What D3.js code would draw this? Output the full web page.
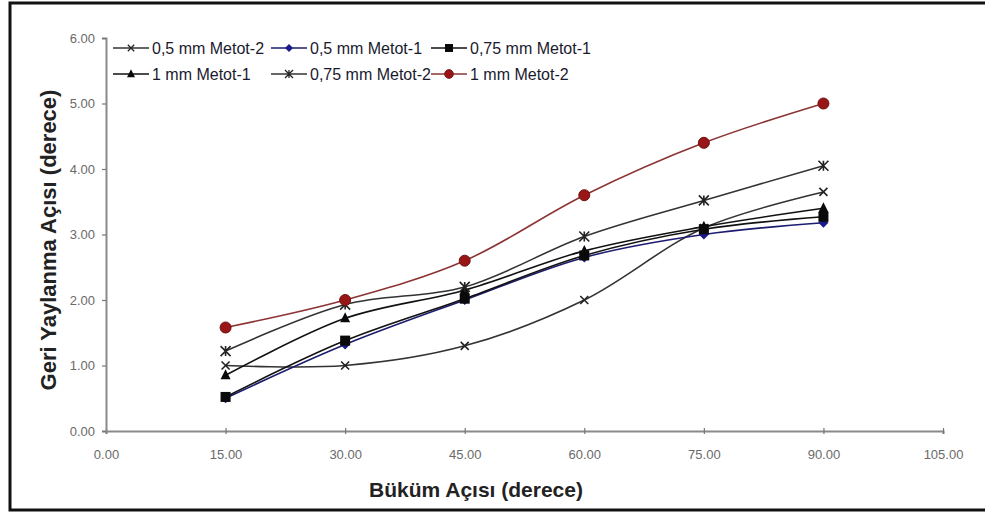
<!DOCTYPE html>
<html>
<head>
<meta charset="utf-8">
<script src="https://cdn.jsdelivr.net/npm/d3@7"></script>
<style>
  body { margin: 0; background: #fff; }
  svg { display: block; font-family: "Liberation Sans", Arial, sans-serif; }
</style>
</head>
<body>
<svg id="chart" width="985" height="513"></svg>
<script>
// bending angle (x) and spring-back angle (y)
const angles = [15, 30, 45, 60, 75, 90];
const xTicks = [0, 15, 30, 45, 60, 75, 90, 105];
const yTicks = [0, 1, 2, 3, 4, 5, 6];

const seriesNames = ["0,5 mm Metot-2", "0,5 mm Metot-1", "0,75 mm Metot-1",
    "1 mm Metot-1", "0,75 mm Metot-2", "1 mm Metot-2"];

const s05m2 = [1.00, 1.00, 1.30, 2.00, 3.10, 3.65];
const s05m1 = [0.50, 1.32, 2.00, 2.65, 3.00, 3.18];
const s075m1 = [0.52, 1.38, 2.02, 2.68, 3.08, 3.27];
const s1m1 = [0.85, 1.72, 2.15, 2.75, 3.12, 3.40];
const s075m2 = [1.22, 1.93, 2.20, 2.97, 3.52, 4.05];
const s1m2 = [1.58, 2.00, 2.60, 3.60, 4.40, 5.00];

const seriesValues = [s05m2, s05m1, s075m1, s1m1, s075m2, s1m2];

const lineColors = ["#333", "#1c1c70", "#111", "#111", "#333", "#8c3434"];
const markerKinds = ["x", "diamond", "square", "triangle", "asterisk", "circle"];

const margin = { top: 38, right: 42, bottom: 82, left: 106 };
const W = 985, H = 513;
const width = W - margin.left - margin.right;
const height = H - margin.top - margin.bottom;

const svg = d3.select("#chart");

// outer frame
svg.append("rect")
    .attr("x", 10).attr("y", 3)
    .attr("width", 990).attr("height", 507)
    .attr("fill", "none")
    .attr("stroke", "#111")
    .attr("stroke-width", 3);

const g = svg.append("g").attr("transform", `translate(${margin.left},${margin.top})`);

const x = d3.scaleLinear().domain([0, 105]).range([0, width]);
const y = d3.scaleLinear().domain([0, 6]).range([height, 0]);

const xAxis = g.append("g")
    .attr("transform", `translate(0,${height})`)
    .call(d3.axisBottom(x).tickValues(xTicks).tickFormat(d3.format(".2f")).tickSize(3).tickPadding(16));
xAxis.selectAll(".tick line").attr("y1", -3);

const yAxis = g.append("g")
    .call(d3.axisLeft(y).tickValues(yTicks).tickFormat(d3.format(".2f")).tickSize(4).tickPadding(7));

[xAxis, yAxis].forEach(a => {
    a.select(".domain").attr("stroke", "#8a8a8a").attr("stroke-width", 2);
    a.selectAll(".tick line").attr("stroke", "#777").attr("stroke-width", 1.2);
    a.selectAll(".tick text").attr("fill", "#6a6a6a").style("font-size", "13px");
});

// lines
const line = d3.line()
    .x((d, i) => x(angles[i]))
    .y(d => y(d))
    .curve(d3.curveCatmullRom.alpha(0.5));

seriesValues.forEach((vals, si) => {
    g.append("path")
        .datum(vals)
        .attr("fill", "none")
        .attr("stroke", lineColors[si])
        .attr("stroke-width", 1.6)
        .attr("d", line);
});

function drawMarker(sel, kind, cx, cy, k = 1) {
    const m = sel.append("g").attr("transform", `translate(${cx},${cy}) scale(${k})`);
    if (kind === "x") {
        m.append("path").attr("d", "M-4,-4L4,4M-4,4L4,-4").attr("stroke", "#222").attr("stroke-width", 1.6);
    } else if (kind === "asterisk") {
        m.append("path").attr("d", "M-5,-5L5,5M-5,5L5,-5M0,-5L0,5").attr("stroke", "#222").attr("stroke-width", 1.6);
    } else if (kind === "diamond") {
        m.append("path").attr("d", "M0,-5L5,0L0,5L-5,0Z").attr("fill", "#1a1a8a");
    } else if (kind === "square") {
        m.append("rect").attr("x", -5).attr("y", -5).attr("width", 10).attr("height", 10).attr("fill", "#0a0a0a");
    } else if (kind === "triangle") {
        m.append("path").attr("d", "M0,-6L5,4L-5,4Z").attr("fill", "#0a0a0a");
    } else if (kind === "circle") {
        m.append("circle").attr("r", 5.5).attr("fill", "#9a1616").attr("stroke", "#6e1010");
    }
}

seriesValues.forEach((vals, si) => {
    vals.forEach((v, i) => drawMarker(g, markerKinds[si], x(angles[i]), y(v)));
});

// legend, two rows of three
const legendCols = [113, 271, 431];
const legendRows = [48, 74];
seriesNames.forEach((name, si) => {
    const lx = legendCols[si % 3];
    const ly = legendRows[Math.floor(si / 3)];
    svg.append("line")
        .attr("x1", lx).attr("x2", lx + 36)
        .attr("y1", ly).attr("y2", ly)
        .attr("stroke", lineColors[si]).attr("stroke-width", 1.6);
    drawMarker(svg, markerKinds[si], lx + 18, ly, 0.8);
    svg.append("text")
        .attr("x", lx + 39).attr("y", ly)
        .attr("dy", "0.35em")
        .attr("fill", "#1a1a2e")
        .style("font-size", "16px")
        .text(name);
});

// axis titles
svg.append("text")
    .attr("x", 476).attr("y", 497)
    .attr("text-anchor", "middle")
    .attr("fill", "#222")
    .style("font-size", "21px")
    .style("font-weight", "bold")
    .text("Büküm Açısı (derece)");

svg.append("text")
    .attr("transform", "translate(56,240) rotate(-90)")
    .attr("text-anchor", "middle")
    .attr("fill", "#222")
    .style("font-size", "22px")
    .style("font-weight", "bold")
    .text("Geri Yaylanma Açısı (derece)");
</script>
</body>
</html>
